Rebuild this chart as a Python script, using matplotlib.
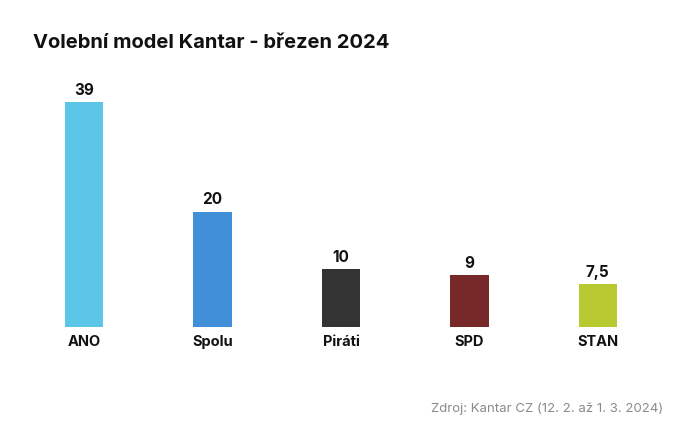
import matplotlib
matplotlib.use("Agg")
from matplotlib import pyplot as plt

parties = ["ANO", "Spolu", "Piráti", "SPD", "STAN"]
values = [39, 20, 10, 9, 7.5]
value_labels = ["39", "20", "10", "9", "7,5"]
colors = ["#5bc6e8", "#418fd6", "#333333", "#77292a", "#b9c932"]

plt.rcParams["font.family"] = ["Inter", "DejaVu Sans"]

W, H = 682, 442
fig = plt.figure(figsize=(W / 100, H / 100), dpi=100)
fig.patch.set_facecolor("white")

# axes placed in pixel terms: x 20..662, baseline at y=327 from top
ax = fig.add_axes([20 / W, 115 / H, 642 / W, 267 / H])
x = range(len(parties))
ax.bar(x, values, width=0.3, color=colors)
ax.set_xlim(-0.5, 4.5)
ax.set_ylim(0, 46.3)
for i, (v, lab) in enumerate(zip(values, value_labels)):
    ax.annotate(lab, (i, v), xytext=(0, 3), textcoords="offset points",
                ha="center", va="bottom", fontsize=11, fontweight="bold",
                color="#111111")
ax.set_xticks(list(x))
ax.set_xticklabels(parties, fontsize=10.5, fontweight="bold", color="#111111")
ax.tick_params(axis="x", length=0, pad=6)
ax.set_yticks([])
for s in ax.spines.values():
    s.set_visible(False)

fig.text(33 / W, 1 - 43 / H, "Volební model Kantar - březen 2024",
         fontsize=14.5, fontweight="bold", color="#111111", va="center", ha="left")
fig.text(663 / W, 1 - 409 / H, "Zdroj: Kantar CZ (12. 2. až 1. 3. 2024)",
         fontsize=9.5, color="#8a8a8a", va="center", ha="right")

fig.savefig("out.png", dpi=100)
